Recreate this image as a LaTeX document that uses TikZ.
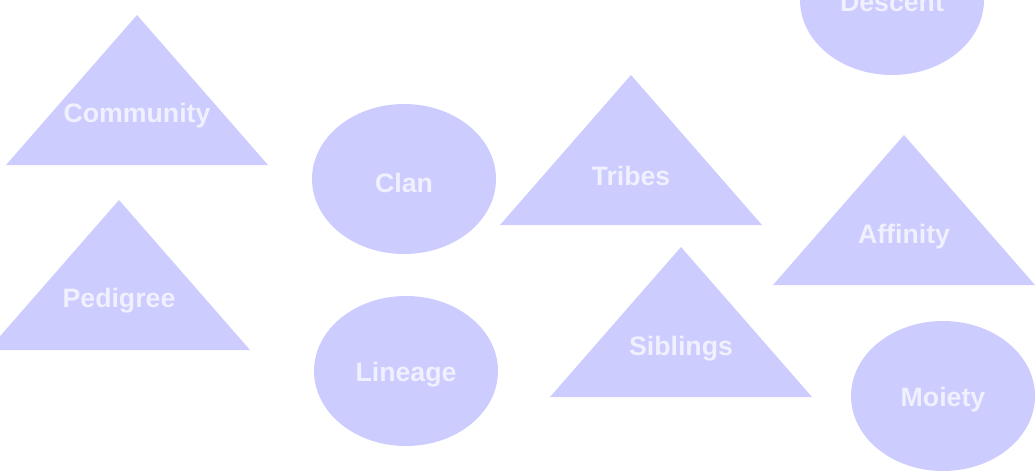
\documentclass[tikz,border=0pt]{standalone}
\usepackage{fontspec}
\setmainfont{Liberation Sans}
\usepackage{xcolor}
\usetikzlibrary{calc}
\definecolor{kinfill}{RGB}{204,204,255}
\definecolor{kintext}{RGB}{240,240,255}

\begin{document}
\begin{tikzpicture}[x=1pt, y=-1pt,
  kinlabel/.style={text=kintext, font=\fontsize{26.7}{30}\selectfont\bfseries, inner sep=0pt},
  tri/.style={fill=kinfill},
  oval/.style={fill=kinfill}]
\useasboundingbox (0,0) rectangle (1035,474);
\clip (0,0) rectangle (1035,474);

% Triangles (apex, base left, base right)
\fill[tri] (137,15) -- (6,165) -- (268,165) -- cycle;
\fill[tri] (119,200) -- (-12,350) -- (250,350) -- cycle;
\fill[tri] (631,75) -- (500,225) -- (762,225) -- cycle;
\fill[tri] (681,247) -- (550,397) -- (812,397) -- cycle;
\fill[tri] (904,135) -- (773,285) -- (1035,285) -- cycle;

% Ellipses
\fill[oval] (404,179) ellipse [x radius=92pt, y radius=75pt];
\fill[oval] (406,371) ellipse [x radius=92pt, y radius=75pt];
\fill[oval] (892,0) ellipse [x radius=92pt, y radius=75pt];
\fill[oval] (943,396) ellipse [x radius=92pt, y radius=75pt];

% Labels
\node[kinlabel] (community) at (137,116) {Community};
\node[kinlabel] (pedigree) at (119,301) {Pedigree};
\node[kinlabel] (tribes) at (631,176) {Tribes};
\node[kinlabel] (siblings) at (681,349) {Siblings};
\node[kinlabel] (affinity) at (904,237) {Affinity};
\node[kinlabel] (clan) at (404,183) {Clan};
\node[kinlabel] (lineage) at (406,375) {Lineage};
\node[kinlabel] (descent) at (892,2) {Descent};
\node[kinlabel] (moiety) at (943,400) {Moiety};
\end{tikzpicture}
\end{document}
